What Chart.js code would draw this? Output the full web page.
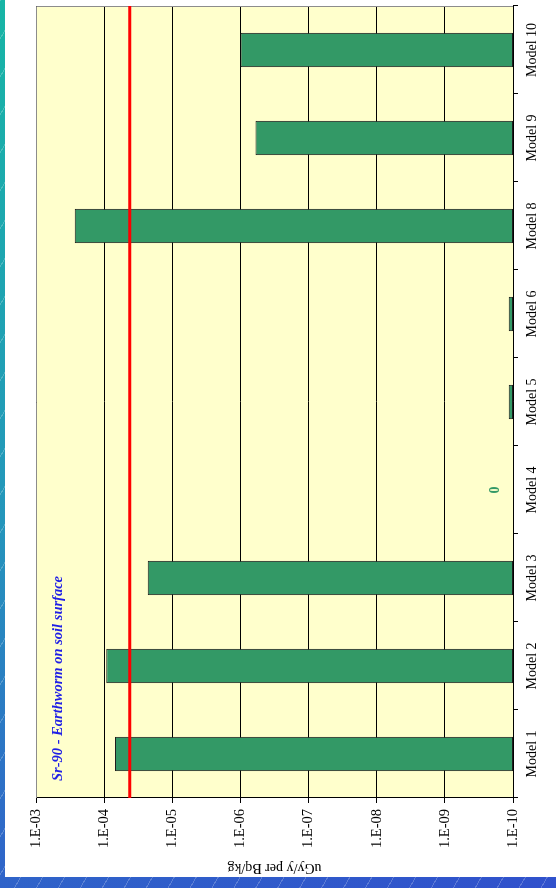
<!DOCTYPE html>
<html>
<head>
<meta charset="utf-8">
<script src="https://cdn.jsdelivr.net/npm/chart.js@4.4.1/dist/chart.umd.min.js"></script>
<style>
    html, body { margin: 0; padding: 0; }
    body {
        width: 556px;
        height: 888px;
        overflow: hidden;
        position: relative;
        background:
            repeating-linear-gradient(120deg, rgba(255, 255, 255, 0.22) 0 1px, transparent 1px 19px),
            linear-gradient(165deg, #17b5a5 0%, #2496bb 50%, #2f6ac8 80%, #3050cc 100%);
    }
    #panel { position: absolute; left: 5px; top: 0; width: 551px; height: 877px; background: #fff; overflow: hidden; }
    /* chart is drawn upright, then turned a quarter left like the source picture */
    #rot { position: absolute; left: 0; top: 0; width: 877px; height: 551px; transform-origin: 0 0; transform: translate(0, 877px) rotate(-90deg); }
</style>
</head>
<body>
<div id="panel"><div id="rot"><canvas id="doseChart" width="877" height="551"></canvas></div></div>
<script>
const categories = ['Model 1', 'Model 2', 'Model 3', 'Model 4', 'Model 5', 'Model 6', 'Model 8', 'Model 9', 'Model 10'];
const doseValues = [6.9e-5, 9.3e-5, 2.3e-5, 0, 1.15e-10, 1.15e-10, 2.7e-4, 6.0e-7, 1.0e-6];
const referenceLevel = 4.2e-5;
const valueTicks = [1e-10, 1e-9, 1e-8, 1e-7, 1e-6, 1e-5, 1e-4, 1e-3];
const tickLabels = ['1.E-10', '1.E-09', '1.E-08', '1.E-07', '1.E-06', '1.E-05', '1.E-04', '1.E-03'];
const chartTitle = 'Sr-90 - Earthworm on soil surface';
const axisTitle = 'uGy/y per Bq/kg';

Chart.defaults.font.family = "'Liberation Serif', 'Times New Roman', serif";
Chart.defaults.color = '#000';

// plot background, border, reference line and in-plot labels
const plotDecor = {
    id: 'plotDecor',
    beforeDraw(chart) {
        const { ctx, chartArea: a } = chart;
        ctx.save();
        ctx.fillStyle = '#ffffcc';
        ctx.fillRect(a.left, a.top, a.right - a.left, a.bottom - a.top);
        ctx.restore();
    },
    beforeDatasetsDraw(chart) {
        const { ctx, chartArea: a } = chart;
        ctx.save();
        ctx.strokeStyle = '#8c8c8c';
        ctx.lineWidth = 1;
        ctx.beginPath();
        ctx.moveTo(a.left, a.top + 0.5);
        ctx.lineTo(a.right - 0.5, a.top + 0.5);
        ctx.lineTo(a.right - 0.5, a.bottom);
        ctx.stroke();
        ctx.restore();
    },
    afterDatasetsDraw(chart) {
        const { ctx, chartArea: a, scales } = chart;
        ctx.save();
        const yRef = scales.y.getPixelForValue(referenceLevel);
        ctx.strokeStyle = '#ff0000';
        ctx.lineWidth = 3;
        ctx.beginPath();
        ctx.moveTo(a.left, yRef);
        ctx.lineTo(a.right, yRef);
        ctx.stroke();

        ctx.fillStyle = '#339966';
        ctx.font = "bold 14px 'Liberation Serif', serif";
        ctx.textAlign = 'center';
        ctx.textBaseline = 'middle';
        doseValues.forEach((v, i) => {
            if (v === 0) ctx.fillText('0', scales.x.getPixelForValue(i), a.bottom - 18);
        });

        ctx.fillStyle = '#1f1fe6';
        ctx.font = "italic bold 14.5px 'Liberation Serif', serif";
        ctx.textAlign = 'left';
        ctx.fillText(chartTitle, a.left + 17, a.top + 22);
        ctx.restore();
    }
};

new Chart(document.getElementById('doseChart'), {
    type: 'bar',
    data: {
        labels: categories,
        datasets: [{
            data: doseValues.map(v => v > 0 ? v : null),
            backgroundColor: '#339966',
            borderColor: '#1e1e1e',
            borderWidth: 1,
            borderSkipped: false,
            barPercentage: 0.39,
            categoryPercentage: 1
        }]
    },
    options: {
        responsive: false,
        animation: false,
        layout: { padding: { top: 31, right: 6, left: 0, bottom: 0 } },
        plugins: {
            legend: { display: false },
            tooltip: { enabled: false }
        },
        scales: {
            x: {
                grid: { drawOnChartArea: false, color: '#000', tickLength: 5, offset: true },
                border: { color: '#000' },
                ticks: { font: { size: 14 }, color: '#000', maxRotation: 0, autoSkip: false, padding: 6 },
                afterFit: (scale) => { scale.height = 43; }
            },
            y: {
                type: 'logarithmic',
                min: 1e-10,
                max: 1e-3,
                afterBuildTicks: (scale) => { scale.ticks = valueTicks.map(v => ({ value: v })); },
                grid: { color: '#000', tickLength: 5 },
                border: { color: '#000' },
                ticks: {
                    font: { size: 14.5 },
                    color: '#000',
                    padding: 6,
                    callback: (val, i) => tickLabels[i]
                },
                title: { display: true, text: axisTitle, font: { size: 14 }, color: '#000', padding: { top: 1, bottom: 0 } },
                afterFit: (scale) => { scale.width = 79; }
            }
        }
    },
    plugins: [plotDecor]
});
</script>
</body>
</html>
